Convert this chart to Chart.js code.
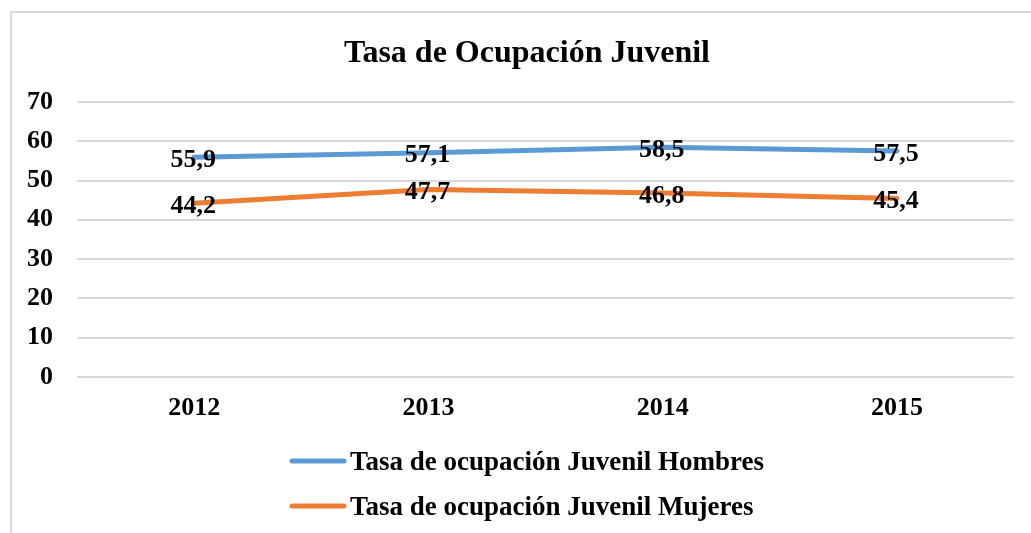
<!DOCTYPE html>
<html>
<head>
<meta charset="utf-8">
<script src="https://cdn.jsdelivr.net/npm/chart.js@4/dist/chart.umd.min.js"></script>
<style>
  html, body { margin: 0; padding: 0; background: #fff; overflow: hidden; }
  #wrap { position: absolute; left: 0; top: 0; width: 1031px; height: 533px; }
</style>
</head>
<body>
<div id="wrap"><canvas id="c" width="1031" height="533"></canvas></div>
<script>
const chartTitle = 'Tasa de Ocupación Juvenil';
const categories = ['2012', '2013', '2014', '2015'];
const seriesNames = ['Tasa de ocupación Juvenil Hombres', 'Tasa de ocupación Juvenil Mujeres'];
const hombres = [55.9, 57.1, 58.5, 57.5];
const mujeres = [44.2, 47.7, 46.8, 45.4];
const seriesColors = ['#5B9BD5', '#ED7D31'];
const yMin = 0, yMax = 70, yStep = 10;

const FONT = "'Liberation Serif', 'Times New Roman', serif";

const frame = {
  id: 'frame',
  afterLayout(chart) {
    if (chart.titleBlock) { chart.titleBlock.left += 13; }
  },
  beforeDraw(chart) {
    const ctx = chart.ctx;
    ctx.save();
    ctx.fillStyle = '#fff';
    ctx.fillRect(0, 0, chart.width, chart.height);
    ctx.strokeStyle = '#d9d9d9';
    ctx.lineWidth = 2;
    ctx.strokeRect(11, 12, chart.width + 40, chart.height + 40);
    ctx.restore();
  }
};

const valueLabels = {
  id: 'valueLabels',
  afterDatasetsDraw(chart) {
    const ctx = chart.ctx;
    ctx.save();
    ctx.font = 'bold 26px ' + FONT;
    ctx.fillStyle = '#000';
    ctx.textAlign = 'center';
    ctx.textBaseline = 'middle';
    chart.data.datasets.forEach((ds, i) => {
      const meta = chart.getDatasetMeta(i);
      meta.data.forEach((pt, j) => {
        const txt = ds.data[j].toFixed(1).replace('.', ',');
        ctx.fillText(txt, pt.x - 1, pt.y + 3);
      });
    });
    ctx.restore();
  }
};

const customLegend = {
  id: 'customLegend',
  afterDraw(chart) {
    const ctx = chart.ctx;
    ctx.save();
    ctx.font = 'bold 27px ' + FONT;
    ctx.textAlign = 'left';
    ctx.textBaseline = 'alphabetic';
    const x0 = 292, lineLen = 52, rowY = [461, 506];
    chart.data.datasets.forEach((ds, i) => {
      const y = rowY[i];
      ctx.strokeStyle = ds.borderColor;
      ctx.lineWidth = 5;
      ctx.lineCap = 'round';
      ctx.beginPath();
      ctx.moveTo(x0, y);
      ctx.lineTo(x0 + lineLen, y);
      ctx.stroke();
      ctx.fillStyle = '#000';
      ctx.fillText(ds.label, x0 + lineLen + 6, y + 9);
    });
    ctx.restore();
  }
};

new Chart(document.getElementById('c'), {
  type: 'line',
  data: {
    labels: categories,
    datasets: [
      { label: seriesNames[0], data: hombres, borderColor: seriesColors[0], backgroundColor: seriesColors[0],
        borderWidth: 5, borderCapStyle: 'round', borderJoinStyle: 'round', pointRadius: 0, tension: 0, fill: false },
      { label: seriesNames[1], data: mujeres, borderColor: seriesColors[1], backgroundColor: seriesColors[1],
        borderWidth: 5, borderCapStyle: 'round', borderJoinStyle: 'round', pointRadius: 0, tension: 0, fill: false }
    ]
  },
  options: {
    responsive: false,
    animation: false,
    devicePixelRatio: 1,
    layout: { padding: { top: 0, left: 27, right: 17, bottom: 93 } },
    plugins: {
      legend: { display: false },
      tooltip: { enabled: false },
      title: {
        display: true,
        text: chartTitle,
        color: '#000',
        font: { family: FONT, size: 32, weight: 'bold', lineHeight: 1.2 },
        padding: { top: 35, bottom: 28.6 }
      }
    },
    scales: {
      x: {
        offset: true,
        grid: { display: false, drawTicks: false },
        border: { display: false },
        ticks: { color: '#000', font: { family: FONT, size: 26, weight: 'bold' }, padding: 16, maxRotation: 0 }
      },
      y: {
        min: yMin, max: yMax,
        afterFit(scale) { scale.width = 50; },
        grid: { color: '#d9d9d9', lineWidth: 2, drawTicks: false },
        border: { display: false },
        ticks: { stepSize: yStep, color: '#000', font: { family: FONT, size: 26, weight: 'bold' }, padding: 24 }
      }
    }
  },
  plugins: [frame, valueLabels, customLegend]
});
</script>
</body>
</html>
